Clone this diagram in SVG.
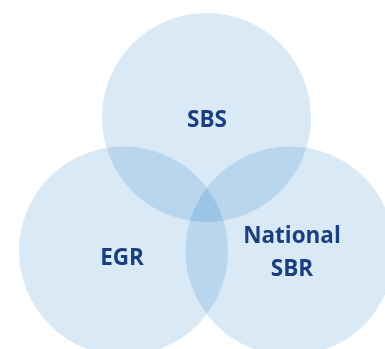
<svg xmlns="http://www.w3.org/2000/svg" width="385" height="349" viewBox="0 0 385 349">
<style>
.c{fill:#d9eaf6;mix-blend-mode:multiply}
.t{font-family:"Open Sans","DejaVu Sans",sans-serif;font-weight:700;font-size:22.5px;fill:#1b3f7e;text-anchor:middle}
</style>
<rect width="385" height="349" fill="#ffffff"/>
<g style="isolation:isolate">
<g id="sbs"><circle class="c" cx="206.5" cy="117.5" r="104.5"/></g>
<g id="egr"><circle class="c" cx="123.5" cy="251" r="104.5"/></g>
<g id="nsbr"><circle class="c" cx="290" cy="251" r="104.5"/></g>
</g>
<g id="connectors"/>
<text class="t" x="207" y="127">SBS</text>
<text class="t" x="122" y="265">EGR</text>
<text class="t" x="292" y="243">National</text>
<text class="t" x="292" y="276">SBR</text>
</svg>
